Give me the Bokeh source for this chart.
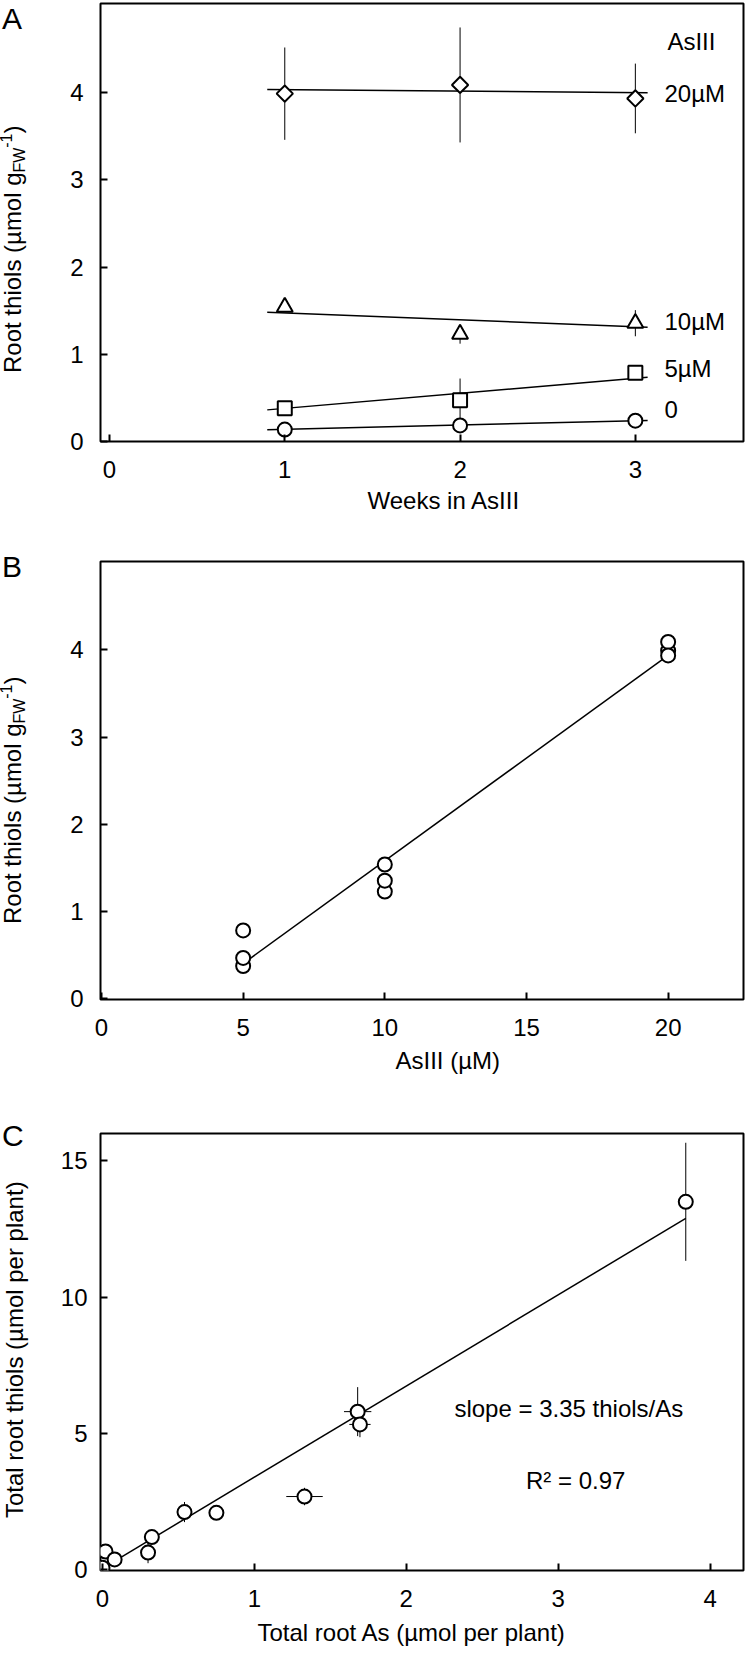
import numpy as np
from bokeh.plotting import figure
from bokeh.models import Label, FixedTicker, Range1d, Title, Div
from bokeh.layouts import column, row
from bokeh.embed import file_html
from bokeh.resources import INLINE

FONT = "Liberation Sans"

# ---------------- data ----------------
# Panel A: root thiols vs weeks, one series per AsIII concentration
weeks = [1, 2, 3]
series_labels = ["0", "5µM", "10µM", "20µM"]
thiols_0uM = [0.134, 0.182, 0.236]
thiols_5uM = [0.378, 0.470, 0.785]
thiols_10uM = [1.540, 1.230, 1.355]
thiols_20uM = [3.990, 4.090, 3.935]
err_0uM = [0.04, 0.04, 0.04]
err_5uM = [0.04, 0.25, 0.05]
err_10uM = [0.05, 0.11, 0.15]
err_20uM = [0.53, 0.66, 0.40]
fit_slope_weeks = [0.0484, 0.1728, -0.0793, -0.0177]
fit_intercept_weeks = [0.0895, 0.2045, 1.552, 4.054]
fit_week_span = [0.9, 3.07]

# Panel B: same weekly values against the AsIII concentration
asiii_conc = [5, 10, 20]

# Panel C: total root thiols vs total root As
total_root_as = [0.0, 0.02, 0.08, 0.30, 0.325, 0.54, 0.75, 1.33, 1.68, 1.695, 3.84]
total_root_thiols = [0.05, 0.65, 0.36, 0.61, 1.18, 2.10, 2.07, 2.67, 5.79, 5.32, 13.5]
as_err = [0, 0, 0, 0, 0, 0, 0, 0.12, 0.09, 0.07, 0.04]
thiols_err = [0, 0, 0, 0.39, 0, 0.37, 0, 0.32, 0.90, 0.47, 2.17]
slope_c = 3.35
intercept_c = 0.03
r2_c = 0.97
fit_as_span = [0.08, 3.84]

ticks_a_x = [0, 1, 2, 3]
ticks_a_y = [0, 1, 2, 3, 4]
ticks_b_x = [0, 5, 10, 15, 20]
ticks_b_y = [0, 1, 2, 3, 4]
ticks_c_x = [0, 1, 2, 3, 4]
ticks_c_y = [0, 5, 10, 15]

# ---------------- layout ----------------
DW = 30            # width of the left text column (panel letter + y title)
FW_ = 717          # figure width
ML, MR = 70, 4

# Arial / Liberation Sans advance widths (em)
ADV = {"R": .722, "o": .556, "t": .278, " ": .278, "h": .556, "i": .222, "l": .222,
       "s": .5, "(": .333, ")": .333, "µ": .576, "m": .833, "g": .556, "F": .611,
       "W": .944, "-": .333, "1": .556, "T": .611, "a": .556, "r": .333, "p": .556,
       "e": .556, "n": .556}


def text_width(t, size):
    return sum(ADV.get(c, .556) for c in t) * size


def make_fig(height, top, bottom, xr, yr, xt, yt, ystand):
    p = figure(width=FW_, height=height, x_range=Range1d(*xr), y_range=Range1d(*yr),
               output_backend="svg", toolbar_location=None,
               min_border_left=ML, min_border_right=MR,
               min_border_top=top, min_border_bottom=bottom, margin=0)
    p.xgrid.visible = False
    p.ygrid.visible = False
    p.background_fill_color = "white"
    p.border_fill_color = "white"
    p.outline_line_color = "black"
    p.outline_line_width = 2
    p.outline_line_alpha = 1.0
    p.axis.axis_line_color = None
    p.axis.major_tick_in = 7
    p.axis.major_tick_out = 0
    p.axis.major_tick_line_width = 2
    p.axis.major_tick_line_color = "black"
    p.axis.minor_tick_line_color = None
    p.axis.major_label_text_font = FONT
    p.axis.major_label_text_font_size = "24px"
    p.axis.major_label_text_color = "black"
    p.xaxis.ticker = FixedTicker(ticks=xt)
    p.yaxis.ticker = FixedTicker(ticks=yt)
    p.xaxis.major_label_standoff = 19
    p.yaxis.major_label_standoff = ystand
    return p


def label(p, x, y, text, size=24, align="left", baseline="middle"):
    p.add_layout(Label(x=x, y=y, text=text, text_font=FONT, text_font_size=f"{size}px",
                       text_align=align, text_baseline=baseline, text_color="black"))


def xtitle(p, text, offset, standoff):
    p.add_layout(Title(text=text, align="left", offset=offset, standoff=standoff,
                       text_font=FONT, text_font_size="24px", text_font_style="normal",
                       text_color="black"), "below")


def side_div(height, letter, letter_top, parts, baseline_x, center_y):
    lh = 28
    base_in_line = (lh - 1.117 * 24) / 2 + 0.905 * 24
    total = sum(text_width(t, s) for t, s, _ in parts)
    inner = "".join(
        f'<span style="font-size:{s}px;position:relative;top:{dy}px">{t}</span>'
        for t, s, dy in parts)
    html = (
        f'<div style="position:relative;width:{DW}px;height:{height}px;'
        f"font-family:'{FONT}',sans-serif;color:#000;\">"
        f'<div style="position:absolute;left:2px;top:{letter_top - 3.9:.1f}px;'
        f'font-size:30px;line-height:30px;">{letter}</div>'
        f'<div style="position:absolute;left:{baseline_x - base_in_line:.1f}px;'
        f'top:{center_y + total / 2:.1f}px;font-size:24px;line-height:{lh}px;'
        f'white-space:nowrap;transform-origin:0 0;transform:rotate(-90deg);">{inner}</div>'
        f'</div>')
    return Div(text=html, width=DW, height=height, margin=0)


root_parts = [("Root thiols (µmol g", 24, 0), ("FW", 16, 4), ("-1", 16, -9), (")", 24, 0)]
style = dict(fill_color="white", line_color="black", line_width=2)

# ---------------- Panel A ----------------
HA = 525
pa = make_fig(HA, 3, 84, (-0.0513, 3.617), (-0.003, 5.025), ticks_a_x, ticks_a_y, 17)
vals_a = [thiols_0uM, thiols_5uM, thiols_10uM, thiols_20uM]
errs_a = [err_0uM, err_5uM, err_10uM, err_20uM]
for v, e in zip(vals_a, errs_a):
    pa.segment(x0=weeks, y0=[a - b for a, b in zip(v, e)], x1=weeks,
               y1=[a + b for a, b in zip(v, e)], line_color="black", line_width=1)
for sl, ic in zip(fit_slope_weeks, fit_intercept_weeks):
    pa.line(x=fit_week_span, y=[ic + sl * x for x in fit_week_span], line_color="black",
            line_width=1.5)
pa.scatter(x=weeks, y=thiols_0uM, marker="circle", size=14, **style)
pa.scatter(x=weeks, y=thiols_5uM, marker="square", size=14, **style)
pa.scatter(x=weeks, y=thiols_10uM, marker="triangle", size=16, **style)
pa.scatter(x=weeks, y=thiols_20uM, marker="square", angle=np.pi / 4, size=11.5, **style)
label(pa, 3.183, 4.589, "AsIII")
for name, ypos in zip(series_labels, [0.366, 0.834, 1.378, 3.992]):
    label(pa, 3.166, ypos, name)
xtitle(pa, "Weeks in AsIII", 267, 8)
da = side_div(HA, "A", 8.3, root_parts, 21, 249.2)

# ---------------- Panel B ----------------
HB = 575
pb = make_fig(HB, 36, 101, (-0.035, 22.66), (-0.006, 5.011), ticks_b_x, ticks_b_y, 17)
b_x = [c for c, v in zip(asiii_conc, vals_a[1:]) for _ in v]
b_y = [y for v in vals_a[1:] for y in v]
slope_b, int_b = np.polyfit(b_x, b_y, 1)
span_b = [min(asiii_conc), max(asiii_conc)]
pb.line(x=span_b, y=[int_b + slope_b * x for x in span_b], line_color="black", line_width=1.5)
pb.scatter(x=b_x, y=b_y, marker="circle", size=14, **style)
xtitle(pb, "AsIII (µM)", 295, 13)
db = side_div(HB, "B", 555.7 - 525, root_parts, 21, 800.3 - 525)

# ---------------- Panel C ----------------
HC = 553
pc = make_fig(HC, 33, 83, (-0.013, 4.22), (-0.048, 16.01), ticks_c_x, ticks_c_y, 13)
pc.segment(x0=total_root_as, y0=[a - b for a, b in zip(total_root_thiols, thiols_err)],
           x1=total_root_as, y1=[a + b for a, b in zip(total_root_thiols, thiols_err)],
           line_color="black", line_width=1)
pc.segment(x0=[a - b for a, b in zip(total_root_as, as_err)], y0=total_root_thiols,
           x1=[a + b for a, b in zip(total_root_as, as_err)], y1=total_root_thiols,
           line_color="black", line_width=1)
pc.line(x=fit_as_span, y=[intercept_c + slope_c * x for x in fit_as_span], line_color="black",
        line_width=1.5)
pc.scatter(x=total_root_as, y=total_root_thiols, marker="circle", size=14, **style)
label(pc, 2.317, 5.895, f"slope = {slope_c:.2f} thiols/As")
label(pc, 2.788, 3.27, f"R² = {r2_c:.2f}")
xtitle(pc, "Total root As (µmol per plant)", 157, 14)
dc = side_div(HC, "C", 1125 - 1100, [("Total root thiols (µmol per plant)", 24, 0)],
              23.5, 1348 - 1100)

layout = column(row(da, pa, spacing=0, margin=0), row(db, pb, spacing=0, margin=0),
                row(dc, pc, spacing=0, margin=0), spacing=0, margin=0)
open("out.html", "w").write(file_html(layout, INLINE))
